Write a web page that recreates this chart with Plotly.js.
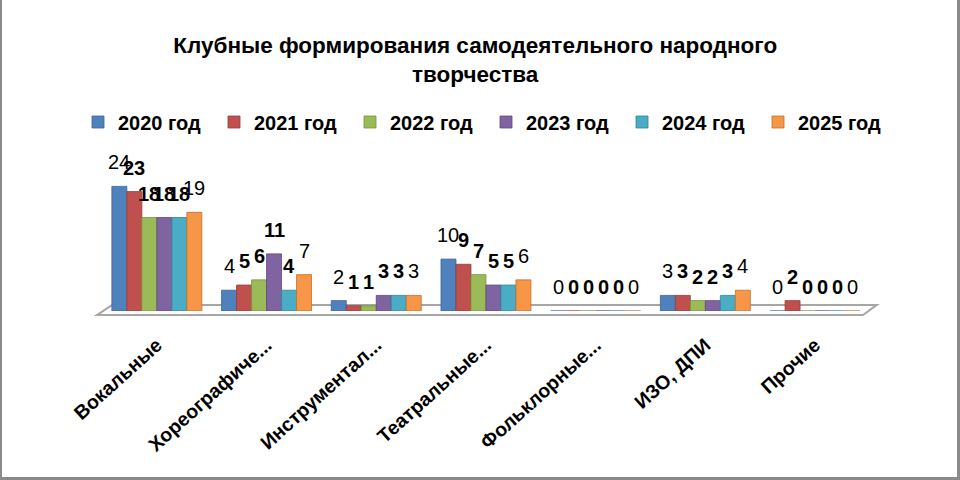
<!DOCTYPE html>
<html>
<head>
<meta charset="utf-8">
<script src="https://cdn.plot.ly/plotly-3.0.1.min.js"></script>
<style>
html,body{margin:0;padding:0;background:#fff;}
#wrap{position:relative;width:960px;height:480px;}
#chart{width:960px;height:480px;}
#frame{position:absolute;left:0;top:0;width:960px;height:480px;box-sizing:border-box;border-left:2px solid #8a8a8a;border-right:3px solid #8a8a8a;border-bottom:3px solid #8a8a8a;pointer-events:none;}
</style>
</head>
<body>
<div id="wrap"><div id="chart"></div><div id="frame"></div></div>
<script>
const categories = ["Вокальные", "Хореографиче...", "Инструментал...", "Театральные...", "Фольклорные...", "ИЗО, ДПИ", "Прочие"];
const seriesNames = ["2020 год", "2021 год", "2022 год", "2023 год", "2024 год", "2025 год"];
const y2020 = [24, 4, 2, 10, 0, 3, 0];
const y2021 = [23, 5, 1, 9, 0, 3, 2];
const y2022 = [18, 6, 1, 7, 0, 2, 0];
const y2023 = [18, 11, 3, 5, 0, 2, 0];
const y2024 = [18, 4, 3, 5, 0, 3, 0];
const y2025 = [19, 7, 3, 6, 0, 4, 0];
const seriesValues = [y2020, y2021, y2022, y2023, y2024, y2025];
const colors = ["#4F81BD", "#C0504D", "#9BBB59", "#8064A2", "#4BACC6", "#F79646"];
const lineColors = ["#3A6496", "#963C3A", "#76923C", "#5F497A", "#31849B", "#C0702F"];
const labelWeights = ["normal", "bold", "bold", "bold", "bold", "normal"];

const FONT = "Liberation Sans, Arial, sans-serif";

const W = 960, H = 480;
const M = {l: 102, r: 0, t: 176, b: 169};
const BARGAP = 0.18;
const catPx = 109.7;
const nSeries = seriesValues.length;
const barPx = catPx * (1 - BARGAP) / nSeries;

const traces = seriesValues.map((vals, i) => ({
  type: "bar",
  name: seriesNames[i],
  x: categories,
  y: vals,
  marker: {color: colors[i], line: {color: lineColors[i], width: 0.8}},
  hoverinfo: "x+y+name"
}));

const annotations = [];
seriesValues.forEach((vals, i) => {
  vals.forEach((v, j) => {
    annotations.push({
      xref: "x", yref: "y",
      x: categories[j], y: v,
      xshift: (i - (nSeries - 1) / 2) * barPx,
      yshift: 11,
      yanchor: "bottom", xanchor: "center",
      showarrow: false,
      text: String(v),
      font: {family: FONT, size: 20, color: "#000", weight: labelWeights[i]}
    });
  });
});

const layout = {
  width: W, height: H,
  paper_bgcolor: "#fff", plot_bgcolor: "rgba(0,0,0,0)",
  margin: M,
  barmode: "group",
  bargap: BARGAP,
  bargroupgap: 0,
  font: {family: FONT, color: "#000"},
  title: {
    text: "<b>Клубные формирования самодеятельного народного<br>творчества</b>",
    font: {family: FONT, size: 22.5, color: "#000"},
    xref: "container", x: 0.495, xanchor: "center",
    yref: "container", y: 1 - 53/480, yanchor: "middle"
  },
  showlegend: true,
  legend: {
    orientation: "h",
    xref: "container", x: 78/960, xanchor: "left",
    yref: "container", y: 1 - 122/480, yanchor: "middle",
    font: {family: FONT, size: 20, color: "#000", weight: "bold"},
    entrywidth: 91, entrywidthmode: "pixels",
    itemwidth: 30,
    traceorder: "normal"
  },
  xaxis: {
    type: "category",
    range: [-0.5, -0.5 + (W - M.l - M.r) / catPx],
    tickangle: -42,
    tickfont: {family: FONT, size: 19.5, color: "#000", weight: "bold"},
    showgrid: false, zeroline: false, showline: false,
    ticks: "", ticklabelstandoff: 18
  },
  yaxis: {
    range: [0, 26],
    visible: false,
    showgrid: false, zeroline: false
  },
  annotations: annotations,
  shapes: [
    {
      type: "path", xref: "paper", yref: "paper",
      path: "M -0.0058 -0.03 L 0.887 -0.03 L 0.903 0.045 L 0.0117 0.045 Z",
      line: {color: "#a6a6a6", width: 2},
      fillcolor: "rgba(255,255,255,0)",
      layer: "below"
    }
  ]
};

Plotly.newPlot("chart", traces, layout, {displayModeBar: false, staticPlot: true});
</script>
</body>
</html>
